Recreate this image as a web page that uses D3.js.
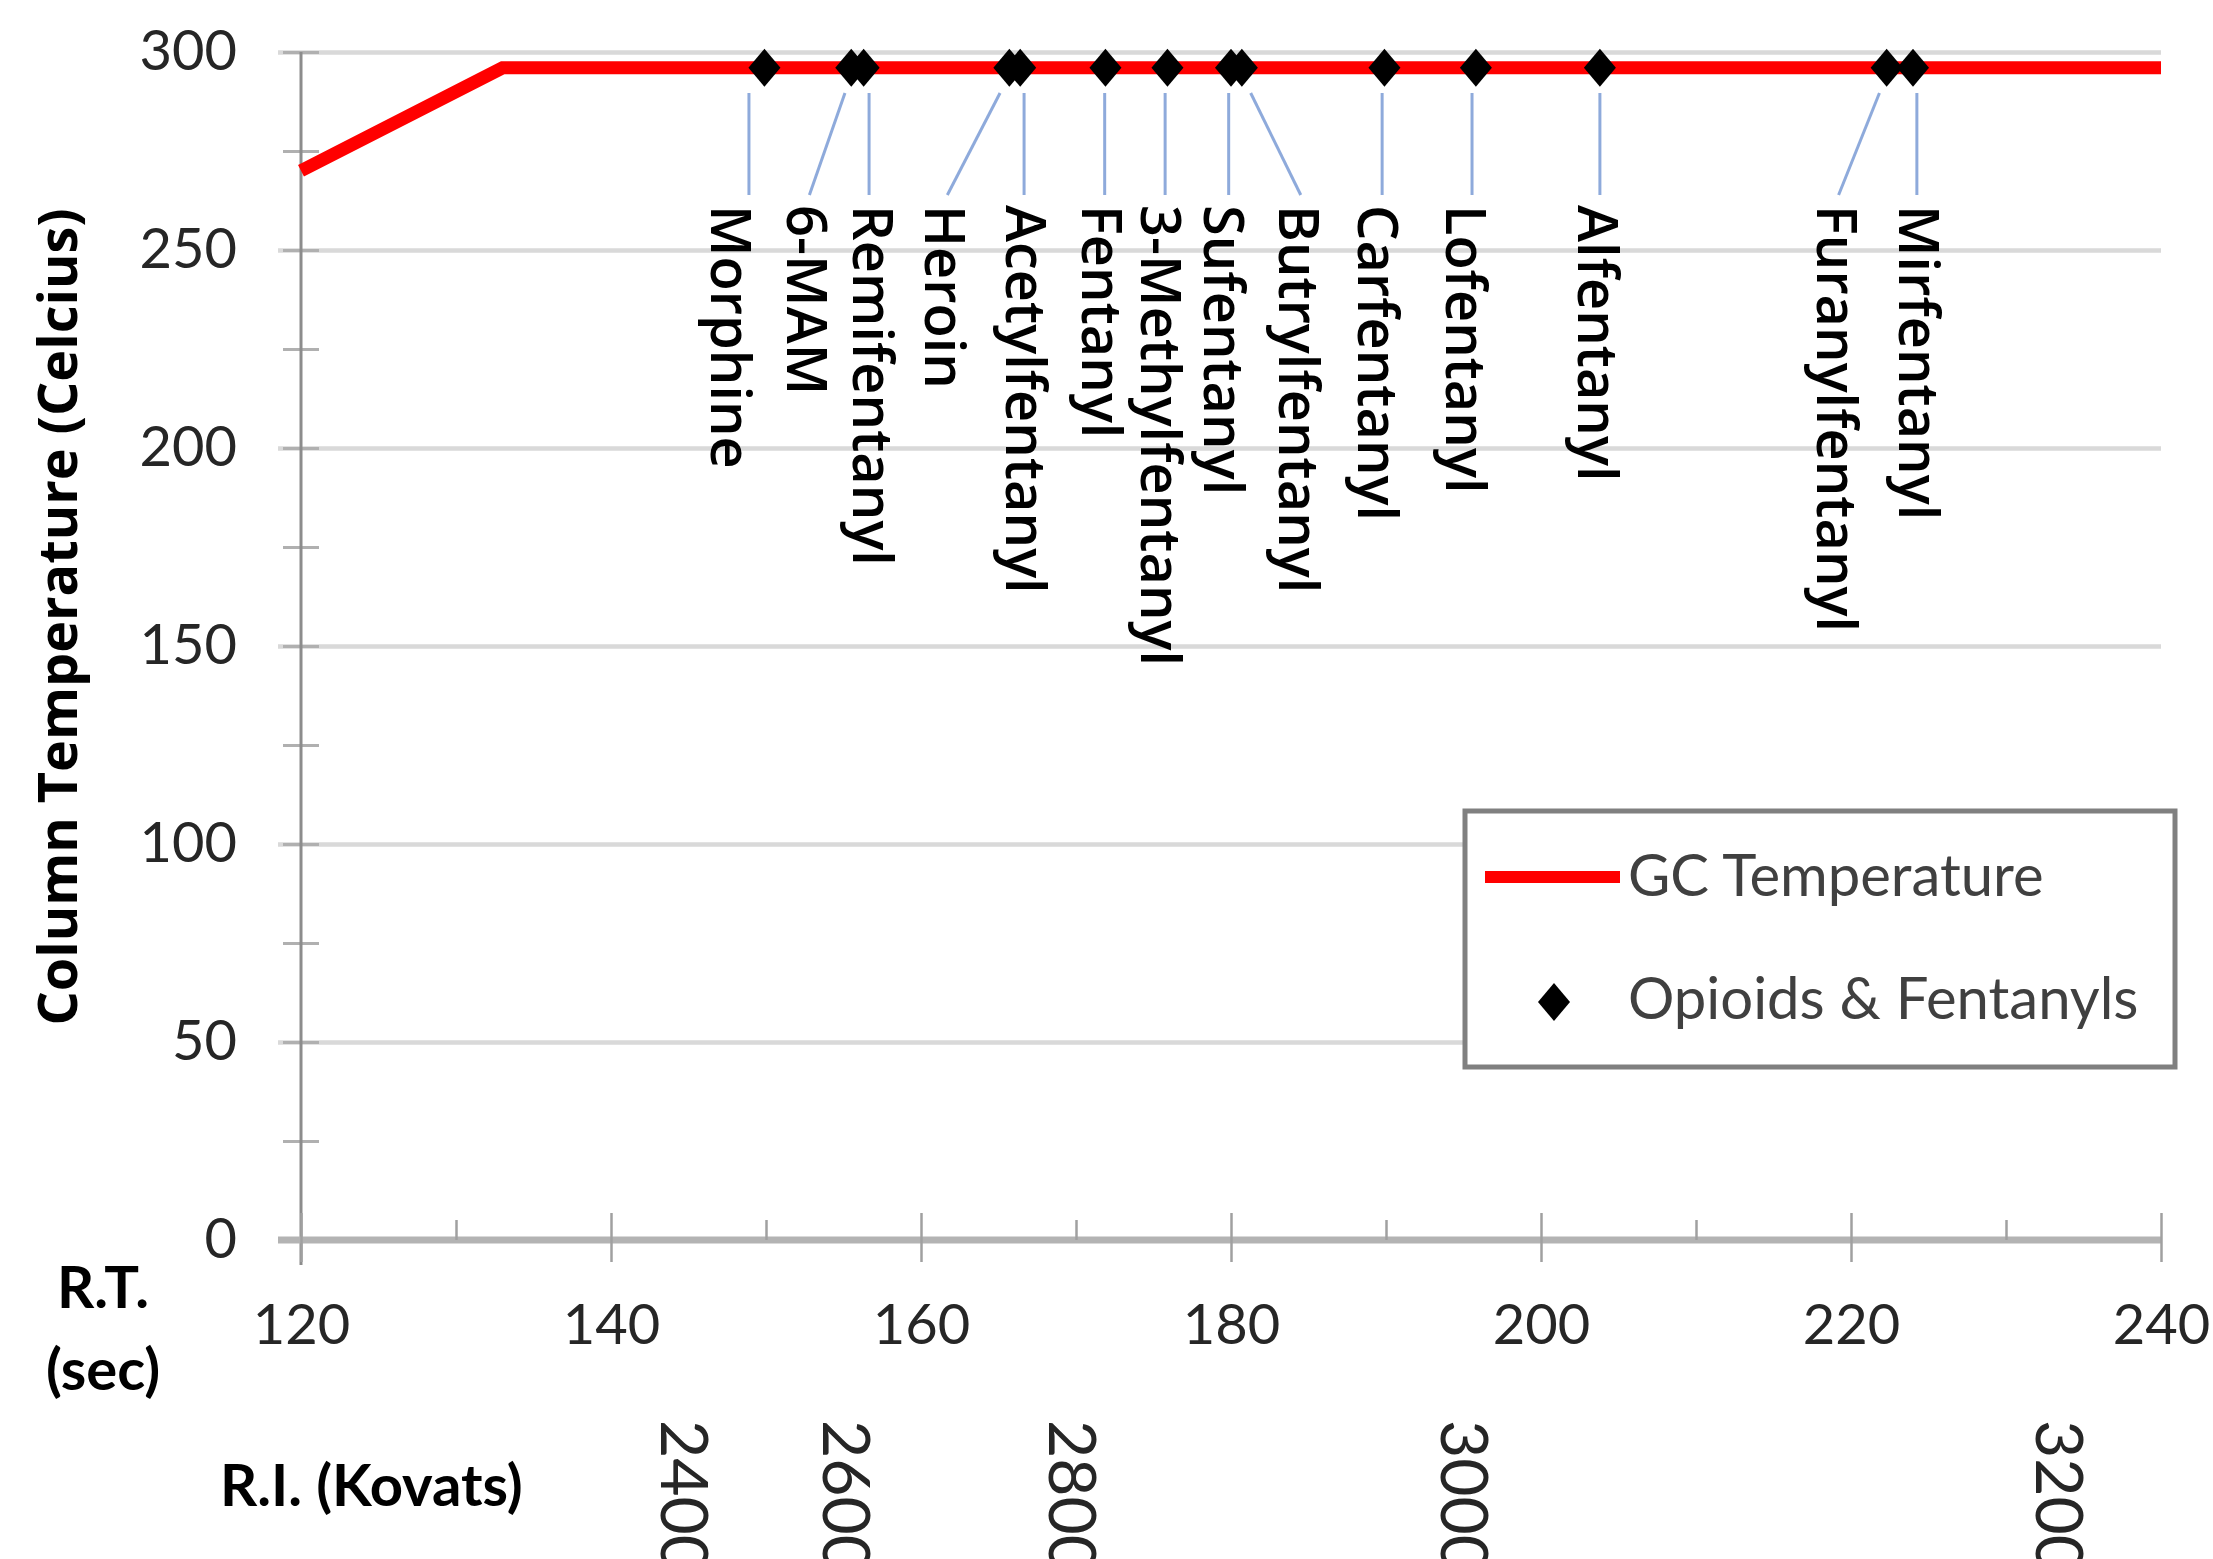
<!DOCTYPE html>
<html lang="en">
<head>
<meta charset="UTF-8">
<title>GC temperature program - opioids and fentanyls</title>
<script src="https://d3js.org/d3.v7.min.js"></script>
<style>
    body { margin: 0; background: #fff; }
    svg { display: block; }
</style>
</head>
<body>
<svg id="chart" width="2213" height="1559"></svg>
<script>
    // GC oven program
    const gcTime = [120, 133, 240];
    const gcTemp = [270, 296, 296];

    // compounds: retention time (sec) and where the data label sits (sec)
    const compounds = ["Morphine", "6-MAM", "Remifentanyl", "Heroin", "Acetylfentanyl", "Fentanyl",
        "3-Methylfentanyl", "Sufentanyl", "Butrylfentanyl", "Carfentanyl", "Lofentanyl", "Alfentanyl",
        "Furanylfentanyl", "Mirfentanyl"];
    const compoundRT = [149.9, 155.5, 156.3, 165.7, 166.4, 171.9, 175.9, 180.0, 180.7, 189.9, 195.8, 203.8, 222.3, 224.0];
    const compoundTemp = [296, 296, 296, 296, 296, 296, 296, 296, 296, 296, 296, 296, 296, 296];
    const labelRT = [147.9, 152.8, 157.0, 161.7, 166.9, 171.8, 175.6, 179.7, 184.5, 189.6, 195.3, 203.8, 219.2, 224.5];

    // axes
    const yTicks = [0, 50, 100, 150, 200, 250, 300];
    const yMinor = [0, 25, 50, 75, 100, 125, 150, 175, 200, 225, 250, 275, 300];
    const xTicks = [120, 140, 160, 180, 200, 220, 240];
    const xMinor = [130, 150, 170, 190, 210, 230];
    const riTicks = ["2400", "2600", "2800", "3000", "3200"];
    const riRT = [144.9, 155.3, 169.9, 195.2, 233.6];

    const svg = d3.select("#chart");
    const x = d3.scaleLinear().domain([120, 240]).range([301, 2161]);
    const y = d3.scaleLinear().domain([0, 300]).range([1240, 52]);
    const gridLeft = 278;

    // gridlines
    svg.append("g")
        .attr("transform", "translate(" + gridLeft + ",0)")
        .call(d3.axisRight(y).tickValues(yTicks.slice(1)).tickSize(x(240) - gridLeft).tickFormat(""))
        .call(g => g.select(".domain").remove())
        .call(g => g.selectAll("line").attr("stroke", "#d9d9d9").attr("stroke-width", 4.5));

    // y axis
    svg.append("g")
        .attr("transform", "translate(" + (x(120) + 18) + ",0)")
        .call(d3.axisLeft(y).tickValues(yMinor).tickSize(36).tickFormat(""))
        .call(g => g.select(".domain").remove())
        .call(g => g.selectAll("line").attr("stroke", "#b0b0b0").attr("stroke-width", 3));

    svg.append("line")
        .attr("x1", x(120)).attr("x2", x(120))
        .attr("y1", y(300)).attr("y2", y(0) + 25)
        .attr("stroke", "#8c8c8c").attr("stroke-width", 3);

    svg.append("g")
        .attr("transform", "translate(" + gridLeft + ",0)")
        .call(d3.axisLeft(y).tickValues(yTicks).tickSize(0).tickPadding(41))
        .call(g => g.select(".domain").remove())
        .call(g => g.selectAll("text")
            .attr("font-family", "Lato, sans-serif").attr("font-size", 56).attr("fill", "#262626"));

    // x axis
    svg.append("line")
        .attr("x1", gridLeft).attr("x2", x(240))
        .attr("y1", y(0)).attr("y2", y(0))
        .attr("stroke", "#b3b3b3").attr("stroke-width", 7);

    svg.append("g")
        .attr("transform", "translate(0," + (y(0) - 27) + ")")
        .call(d3.axisBottom(x).tickValues(xTicks).tickSize(49).tickFormat(""))
        .call(g => g.select(".domain").remove())
        .call(g => g.selectAll("line").attr("stroke", "#a0a0a0").attr("stroke-width", 2.5));

    svg.append("g")
        .attr("transform", "translate(0," + (y(0) - 20) + ")")
        .call(d3.axisBottom(x).tickValues(xMinor).tickSize(20).tickFormat(""))
        .call(g => g.select(".domain").remove())
        .call(g => g.selectAll("line").attr("stroke", "#a0a0a0").attr("stroke-width", 2.5));

    svg.append("g")
        .attr("transform", "translate(0," + y(0) + ")")
        .call(d3.axisBottom(x).tickValues(xTicks).tickSize(0).tickPadding(64))
        .call(g => g.select(".domain").remove())
        .call(g => g.selectAll("text")
            .attr("font-family", "Lato, sans-serif").attr("font-size", 56).attr("fill", "#262626"));

    // Kovats index labels (rotated, run off the bottom like the original)
    svg.append("g").selectAll("text")
        .data(riTicks)
        .join("text")
        .attr("transform", (d, i) => "translate(" + x(riRT[i]) + ",1420) rotate(90)")
        .attr("dominant-baseline", "central")
        .attr("font-family", "Lato, sans-serif")
        .attr("font-size", 66)
        .attr("fill", "#262626")
        .text(d => d);

    // axis titles
    svg.append("text")
        .attr("transform", "translate(56,617) rotate(-90)")
        .attr("text-anchor", "middle")
        .attr("dominant-baseline", "central")
        .attr("font-family", "'Open Sans', sans-serif")
        .attr("font-weight", "bold")
        .attr("font-size", 54)
        .text("Column Temperature (Celcius)");

    const bold = { family: "Lato, sans-serif", size: 58 };
    svg.append("text").attr("x", 103).attr("y", 1308).attr("text-anchor", "middle")
        .attr("font-family", bold.family).attr("font-weight", "bold").attr("font-size", bold.size)
        .text("R.T.");
    svg.append("text").attr("x", 103).attr("y", 1390).attr("text-anchor", "middle")
        .attr("font-family", bold.family).attr("font-weight", "bold").attr("font-size", bold.size)
        .text("(sec)");
    svg.append("text").attr("x", 220).attr("y", 1506)
        .attr("font-family", bold.family).attr("font-weight", "bold").attr("font-size", bold.size)
        .text("R.I. (Kovats)");

    // GC temperature line
    const line = d3.line().x(d => x(d[0])).y(d => y(d[1]));
    svg.append("path")
        .datum(d3.zip(gcTime, gcTemp))
        .attr("d", line)
        .attr("fill", "none")
        .attr("stroke", "#ff0000")
        .attr("stroke-width", 13);

    // leader lines: straight down when the label sits close to its point, slanted otherwise
    const leaderTop = 93, leaderBottom = 195, labelTop = 205;
    const leaderX = (i, end) => {
        const px = x(compoundRT[i]), lx = x(labelRT[i]);
        if (Math.abs(lx - px) < 35) return (px + lx) / 2;
        return end === 0 ? px + (lx - px) * 0.15 : lx;
    };
    svg.append("g").selectAll("line")
        .data(compounds)
        .join("line")
        .attr("x1", (d, i) => leaderX(i, 0))
        .attr("y1", leaderTop)
        .attr("x2", (d, i) => leaderX(i, 1))
        .attr("y2", leaderBottom)
        .attr("stroke", "#8eaadb")
        .attr("stroke-width", 3);

    svg.append("g").selectAll("text")
        .data(compounds)
        .join("text")
        .attr("transform", (d, i) => "translate(" + x(labelRT[i]) + "," + labelTop + ") rotate(90)")
        .attr("dominant-baseline", "central")
        .attr("font-family", "'Open Sans', sans-serif")
        .attr("font-weight", 600)
        .attr("font-size", 56)
        .attr("fill", "#000")
        .text(d => d);

    // diamonds
    const diamond = "M0,-19L16,0L0,19L-16,0Z";
    svg.append("g").selectAll("path")
        .data(compounds)
        .join("path")
        .attr("d", diamond)
        .attr("transform", (d, i) => "translate(" + x(compoundRT[i]) + "," + y(compoundTemp[i]) + ")")
        .attr("fill", "#000");

    // legend
    const legend = svg.append("g").attr("transform", "translate(1465,811)");
    legend.append("rect")
        .attr("width", 710).attr("height", 256)
        .attr("fill", "#fff").attr("stroke", "#808080").attr("stroke-width", 5);
    legend.append("line")
        .attr("x1", 20).attr("x2", 155).attr("y1", 66).attr("y2", 66)
        .attr("stroke", "#ff0000").attr("stroke-width", 12);
    legend.append("text")
        .attr("x", 163).attr("y", 85)
        .attr("font-family", "Lato, sans-serif").attr("font-size", 58).attr("fill", "#404040")
        .text("GC Temperature");
    legend.append("path")
        .attr("d", diamond)
        .attr("transform", "translate(89,191)")
        .attr("fill", "#000");
    legend.append("text")
        .attr("x", 163).attr("y", 208)
        .attr("font-family", "Lato, sans-serif").attr("font-size", 58).attr("fill", "#404040")
        .text("Opioids & Fentanyls");
</script>
</body>
</html>
